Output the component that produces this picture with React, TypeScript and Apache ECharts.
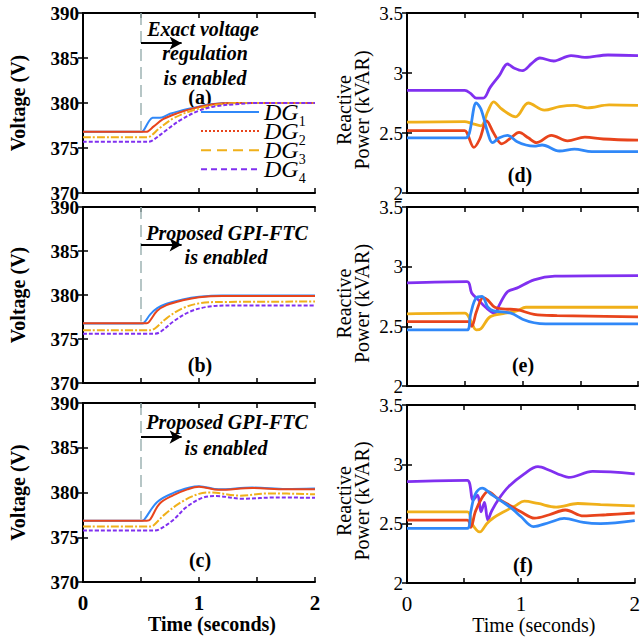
import React, { useEffect, useRef } from 'react';
import * as echarts from 'echarts';

const FONT = '"Liberation Serif", "Times New Roman", serif';

const seriesNames = ['DG1', 'DG2', 'DG3', 'DG4'];
const seriesColors = ['#3088f8', '#e8441c', '#f0b01a', '#8030f0'];
const panelLabels = ['(a)', '(b)', '(c)', '(d)', '(e)', '(f)'];
const timeRange = [0, 2];
const voltageRange = [370, 390];
const powerRange = [2, 3.5];

// ---- Voltage (V) : panel (a) exact voltage regulation
const voltA_DG1 = [[0, 376.8], [0.5, 376.8], [0.52, 376.9], [0.57, 378.0], [0.6, 378.35], [0.68, 378.4], [0.75, 378.8], [0.83, 379.1], [0.95, 379.45], [1.1, 379.85], [1.3, 380], [2, 380]];
const voltA_DG2 = [[0, 376.8], [0.54, 376.8], [0.56, 376.85], [0.61, 377.4], [0.69, 378.2], [0.81, 378.85], [0.95, 379.4], [1.12, 379.85], [1.3, 380], [2, 380]];
const voltA_DG3 = [[0, 376.2], [0.55, 376.2], [0.58, 376.3], [0.66, 377.2], [0.78, 378.3], [0.95, 379.2], [1.15, 379.8], [1.35, 380], [2, 380]];
const voltA_DG4 = [[0, 375.7], [0.56, 375.7], [0.6, 375.85], [0.72, 377.0], [0.84, 378.1], [1.0, 379.15], [1.15, 379.65], [1.3, 379.85], [1.5, 380], [2, 380]];

// ---- Voltage (V) : panel (b) proposed GPI-FTC
const voltB_DG1 = [[0, 376.75], [0.51, 376.75], [0.53, 376.9], [0.58, 377.8], [0.64, 378.5], [0.72, 379.0], [0.86, 379.5], [1.0, 379.8], [1.2, 379.95], [2, 379.95]];
const voltB_DG2 = [[0, 376.8], [0.55, 376.8], [0.57, 376.95], [0.64, 378.2], [0.72, 378.85], [0.86, 379.4], [1.0, 379.75], [1.2, 379.9], [2, 379.9]];
const voltB_DG3 = [[0, 376.0], [0.58, 376.0], [0.62, 376.2], [0.72, 377.35], [0.86, 378.5], [1.0, 379.05], [1.15, 379.2], [2, 379.25]];
const voltB_DG4 = [[0, 375.6], [0.6, 375.6], [0.66, 375.75], [0.78, 377.0], [0.92, 378.1], [1.07, 378.65], [1.25, 378.8], [2, 378.8]];

// ---- Voltage (V) : panel (c) proposed GPI-FTC
const voltC_DG1 = [[0, 376.85], [0.51, 376.85], [0.53, 377.0], [0.64, 378.95], [0.78, 379.95], [0.92, 380.55], [1.0, 380.7], [1.17, 380.35], [1.46, 380.55], [1.75, 380.4], [2, 380.45]];
const voltC_DG2 = [[0, 376.85], [0.55, 376.85], [0.58, 377.0], [0.66, 378.75], [0.78, 379.7], [0.9, 380.35], [1.0, 380.65], [1.17, 380.3], [1.46, 380.5], [1.75, 380.35], [2, 380.35]];
const voltC_DG3 = [[0, 376.2], [0.58, 376.2], [0.61, 376.35], [0.7, 377.5], [0.85, 378.95], [1.0, 379.85], [1.1, 380.0], [1.35, 379.65], [1.6, 379.9], [2, 379.8]];
const voltC_DG4 = [[0, 375.75], [0.61, 375.75], [0.66, 375.9], [0.78, 376.95], [0.89, 378.35], [1.04, 379.45], [1.15, 379.6], [1.38, 379.3], [1.67, 379.45], [2, 379.4]];

// ---- Reactive power (kVAR) : panel (d)
const powD_DG1 = [[0, 2.46], [0.51, 2.46], [0.54, 2.5], [0.6, 2.75], [0.64, 2.7], [0.7, 2.5], [0.74, 2.42], [0.8, 2.46], [0.87, 2.48], [0.95, 2.43], [1.03, 2.4], [1.1, 2.39], [1.17, 2.4], [1.32, 2.35], [1.45, 2.365], [1.6, 2.345], [2, 2.345]];
const powD_DG2 = [[0, 2.52], [0.5, 2.52], [0.52, 2.5], [0.58, 2.38], [0.63, 2.45], [0.69, 2.6], [0.75, 2.5], [0.82, 2.41], [0.9, 2.46], [0.97, 2.505], [1.05, 2.46], [1.12, 2.42], [1.25, 2.48], [1.39, 2.435], [1.54, 2.465], [1.7, 2.45], [2, 2.44]];
const powD_DG3 = [[0, 2.59], [0.5, 2.595], [0.56, 2.58], [0.64, 2.56], [0.7, 2.68], [0.75, 2.76], [0.82, 2.7], [0.94, 2.635], [1.05, 2.75], [1.19, 2.69], [1.32, 2.72], [1.45, 2.73], [1.56, 2.71], [1.75, 2.735], [2, 2.73]];
const powD_DG4 = [[0, 2.855], [0.5, 2.855], [0.55, 2.83], [0.6, 2.79], [0.66, 2.79], [0.72, 2.88], [0.8, 2.98], [0.87, 3.075], [0.93, 3.04], [1.0, 3.02], [1.08, 3.08], [1.15, 3.125], [1.27, 3.1], [1.42, 3.145], [1.54, 3.13], [1.74, 3.15], [2, 3.145]];

// ---- Reactive power (kVAR) : panel (e)
const powE_DG1 = [[0, 2.47], [0.52, 2.47], [0.55, 2.6], [0.6, 2.74], [0.65, 2.75], [0.7, 2.66], [0.75, 2.63], [0.9, 2.61], [1.0, 2.56], [1.1, 2.53], [1.2, 2.52], [2, 2.52]];
const powE_DG2 = [[0, 2.54], [0.53, 2.54], [0.56, 2.5], [0.6, 2.62], [0.66, 2.74], [0.7, 2.72], [0.76, 2.66], [0.85, 2.645], [0.95, 2.64], [1.1, 2.6], [1.3, 2.59], [2, 2.58]];
const powE_DG3 = [[0, 2.605], [0.5, 2.61], [0.55, 2.55], [0.6, 2.47], [0.64, 2.48], [0.72, 2.58], [0.85, 2.61], [0.95, 2.63], [1.03, 2.66], [2, 2.66]];
const powE_DG4 = [[0, 2.865], [0.52, 2.875], [0.56, 2.78], [0.62, 2.72], [0.68, 2.66], [0.76, 2.61], [0.8, 2.68], [0.87, 2.79], [0.95, 2.82], [1.1, 2.89], [1.28, 2.92], [2, 2.925]];

// ---- Reactive power (kVAR) : panel (f)
const powF_DG1 = [[0, 2.46], [0.53, 2.46], [0.56, 2.6], [0.6, 2.75], [0.66, 2.8], [0.75, 2.74], [0.86, 2.67], [0.93, 2.62], [1.0, 2.56], [1.11, 2.475], [1.25, 2.51], [1.38, 2.545], [1.55, 2.51], [1.7, 2.5], [2, 2.525]];
const powF_DG2 = [[0, 2.53], [0.53, 2.53], [0.56, 2.47], [0.6, 2.6], [0.66, 2.72], [0.71, 2.77], [0.8, 2.71], [0.92, 2.645], [1.0, 2.6], [1.12, 2.546], [1.25, 2.575], [1.39, 2.615], [1.55, 2.565], [1.75, 2.575], [2, 2.59]];
const powF_DG3 = [[0, 2.6], [0.53, 2.6], [0.57, 2.5], [0.64, 2.43], [0.7, 2.5], [0.76, 2.55], [0.85, 2.6], [0.95, 2.65], [1.03, 2.69], [1.15, 2.67], [1.31, 2.64], [1.5, 2.67], [1.7, 2.66], [2, 2.65]];
const powF_DG4 = [[0, 2.855], [0.53, 2.865], [0.55, 2.84], [0.58, 2.7], [0.62, 2.74], [0.65, 2.6], [0.68, 2.68], [0.71, 2.53], [0.74, 2.6], [0.8, 2.7], [0.89, 2.81], [1.03, 2.92], [1.15, 2.98], [1.25, 2.95], [1.35, 2.91], [1.42, 2.89], [1.63, 2.94], [2, 2.92]];

const panelData = [
  [voltA_DG1, voltA_DG2, voltA_DG3, voltA_DG4],
  [voltB_DG1, voltB_DG2, voltB_DG3, voltB_DG4],
  [voltC_DG1, voltC_DG2, voltC_DG3, voltC_DG4],
  [powD_DG1, powD_DG2, powD_DG3, powD_DG4],
  [powE_DG1, powE_DG2, powE_DG3, powE_DG4],
  [powF_DG1, powF_DG2, powF_DG3, powF_DG4],
];

// event annotation: time the controller is enabled, arrow end time, arrow level
const eventTime = 0.5;
const arrowEndTime = 0.85;
const arrowLevels = [386.65, 385.7, 386.2];
const dashedEnd = 377;

// layout (pixels)
const grids = [
  { left: 83, top: 13, width: 232, height: 180 },
  { left: 83, top: 207, width: 232, height: 176 },
  { left: 83, top: 403, width: 232, height: 179 },
  { left: 407, top: 13, width: 231, height: 180 },
  { left: 407, top: 207, width: 231, height: 179 },
  { left: 407, top: 405, width: 231, height: 178 },
];
const panelLabelPos = [[200, 97], [200, 365], [200, 560], [520, 175], [523, 365], [523, 565]];
const annotationTexts = [
  { text: 'Exact voltage', x: 203, y: 29 },
  { text: 'regulation', x: 205, y: 53 },
  { text: 'is enabled', x: 205, y: 78 },
  { text: 'Proposed GPI-FTC', x: 227, y: 233 },
  { text: 'is enabled', x: 226, y: 257 },
  { text: 'Proposed GPI-FTC', x: 227, y: 422 },
  { text: 'is enabled', x: 226, y: 448 },
];

const voltLineTypes: any[] = ['solid', 'solid', [8, 2, 2, 2], [4, 2]];
const legendLineTypes: any[] = ['solid', [2, 2], [10, 6], [6, 4]];

function buildOption() {
  const xAxis: any[] = [];
  const yAxis: any[] = [];
  const series: any[] = [];
  grids.forEach((g, i) => {
    const isLeft = i < 3;
    const isBottom = i === 2 || i === 5;
    const bold = isLeft ? 'bold' : 'normal';
    const axisLine = { show: true, lineStyle: { color: '#000', width: 2 } };
    const tick = { show: true, inside: true, length: 5, lineStyle: { color: '#000', width: 1.5 } };
    xAxis.push({
      type: 'value', gridIndex: i, min: timeRange[0], max: timeRange[1], interval: 0.5,
      position: 'bottom', axisLine, axisTick: tick, splitLine: { show: false },
      axisLabel: {
        show: isBottom, margin: 10, showMinLabel: true, showMaxLabel: true,
        formatter: (v: number) => (Number.isInteger(v) ? String(v) : ''),
        fontFamily: FONT, fontSize: 21, fontWeight: bold, color: '#000',
      },
      name: isBottom ? 'Time (seconds)' : '', nameLocation: 'middle', nameGap: 30,
      nameTextStyle: { fontFamily: FONT, fontSize: 20, fontWeight: bold, color: '#000', padding: [0, 0, 0, 26] },
    });
    xAxis.push({
      type: 'value', gridIndex: i, min: timeRange[0], max: timeRange[1], interval: 0.5,
      position: 'top', axisLine, axisTick: tick, axisLabel: { show: false }, splitLine: { show: false },
    });
    const yr = isLeft ? voltageRange : powerRange;
    const yint = isLeft ? 5 : 0.5;
    yAxis.push({
      type: 'value', gridIndex: i, min: yr[0], max: yr[1], interval: yint, position: 'left',
      axisLine, axisTick: tick, splitLine: { show: false },
      axisLabel: { margin: 4, fontFamily: FONT, fontSize: 19, fontWeight: bold, color: '#000', showMinLabel: true, showMaxLabel: true },
      name: isLeft ? 'Voltage (V)' : 'Reactive\nPower (kVAR)', nameLocation: 'middle', nameGap: isLeft ? 56 : 36,
      nameTextStyle: { fontFamily: FONT, fontSize: 20, fontWeight: bold, color: '#000', lineHeight: 18, padding: isLeft ? 0 : [0, 14, 0, 0] },
    });
    yAxis.push({
      type: 'value', gridIndex: i, min: yr[0], max: yr[1], interval: yint, position: 'right',
      axisLine, axisTick: tick, axisLabel: { show: false }, splitLine: { show: false },
    });
    panelData[i].forEach((d, k) => {
      const s: any = {
        name: seriesNames[k], type: 'line', xAxisIndex: 2 * i, yAxisIndex: 2 * i,
        data: d, showSymbol: false, symbol: 'none', smooth: 0.35, color: seriesColors[k],
        lineStyle: { color: seriesColors[k], width: isLeft ? 2 : 2.8, type: isLeft ? voltLineTypes[k] : 'solid' },
        z: 3 + (isLeft ? k : 3 - k),
      };
      if (isLeft && k === 0) {
        s.markLine = {
          silent: true, symbol: ['none', 'none'], label: { show: false }, animation: false,
          data: [
            [
              { coord: [eventTime, voltageRange[1]], lineStyle: { color: '#9fb4b4', type: [12, 6], width: 1.5 } },
              { coord: [eventTime, dashedEnd] },
            ],
            [
              { coord: [eventTime, arrowLevels[i]], symbol: 'none', lineStyle: { color: '#000', type: 'solid', width: 2 } },
              { coord: [arrowEndTime, arrowLevels[i]], symbol: 'arrow', symbolSize: [10, 12] },
            ],
          ],
        };
      }
      series.push(s);
    });
  });

  const graphic: any[] = [];
  panelLabels.forEach((t, i) => {
    graphic.push({
      type: 'text', x: panelLabelPos[i][0], y: panelLabelPos[i][1], silent: true,
      style: { text: t, font: `bold 20px ${FONT}`, fill: '#000', align: 'center', verticalAlign: 'middle' },
    });
  });
  annotationTexts.forEach((a) => {
    graphic.push({
      type: 'text', x: a.x, y: a.y, silent: true,
      style: { text: a.text, font: `italic bold 20px ${FONT}`, fill: '#000', align: 'center', verticalAlign: 'middle' },
    });
  });

  return {
    animation: false,
    backgroundColor: '#fff',
    grid: grids.map((g) => ({ ...g, containLabel: false })),
    xAxis, yAxis, series, graphic,
    legend: {
      left: 200, top: 100, orient: 'vertical', itemWidth: 58, itemHeight: 10, itemGap: -8.9,
      selectedMode: false, padding: 0,
      data: seriesNames.map((n, k) => ({
        name: n,
        itemStyle: { opacity: 0, borderWidth: 0 },
        lineStyle: { color: seriesColors[k], width: 2, type: legendLineTypes[k], opacity: 1 },
      })),
      formatter: (name: string) => `{d|DG}{s|${name.slice(2)}}`,
      textStyle: {
        rich: {
          d: { fontFamily: FONT, fontStyle: 'italic', fontSize: 24, lineHeight: 24, color: '#000', verticalAlign: 'middle' },
          s: { fontFamily: FONT, fontSize: 14, lineHeight: 32, color: '#000', verticalAlign: 'bottom' },
        },
      },
    },
  };
}

export default function App() {
  const ref = useRef<HTMLDivElement>(null);
  useEffect(() => {
    if (!ref.current) return;
    const chart = echarts.init(ref.current, undefined, { renderer: 'svg' });
    chart.setOption(buildOption() as any);
    return () => chart.dispose();
  }, []);
  return <div ref={ref} style={{ position: 'absolute', left: 0, top: 0, width: 643, height: 642 }} />;
}
